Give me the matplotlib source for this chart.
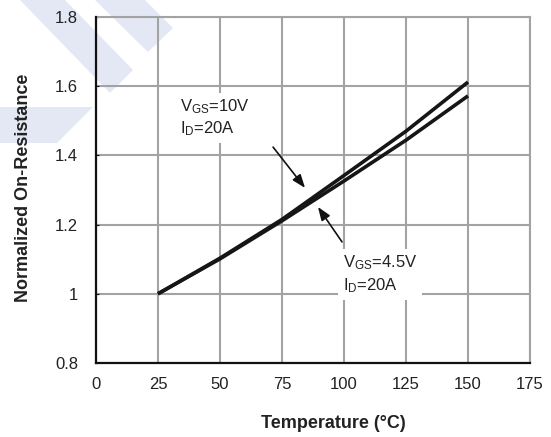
import matplotlib
matplotlib.use("Agg")
import matplotlib.pyplot as plt
from matplotlib.patches import Polygon

plt.rcParams['font.family'] = ['Liberation Sans', 'DejaVu Sans']
plt.rcParams['mathtext.fontset'] = 'custom'
plt.rcParams['mathtext.rm'] = 'Liberation Sans'
plt.rcParams['mathtext.it'] = 'Liberation Sans'

# Data
temperature = [25, 50, 75, 100, 125, 150]
r_vgs10 = [1.0, 1.103, 1.215, 1.342, 1.470, 1.612]
r_vgs45 = [1.0, 1.101, 1.211, 1.326, 1.444, 1.572]
x_ticks = [0, 25, 50, 75, 100, 125, 150, 175]
y_ticks = [0.8, 1.0, 1.2, 1.4, 1.6, 1.8]
y_tick_labels = ['0.8', '1', '1.2', '1.4', '1.6', '1.8']
label_10 = "V$_{\\mathrm{GS}}$=10V\nI$_{\\mathrm{D}}$=20A"
label_45 = "V$_{\\mathrm{GS}}$=4.5V\nI$_{\\mathrm{D}}$=20A"

W, H = 551, 437
fig = plt.figure(figsize=(W / 100, H / 100), dpi=100)
fig.patch.set_facecolor('white')

# watermark stripes (figure pixel coords, y down)
wm = '#e4e8f4'
def px(pts):
    return [(x / W, 1 - y / H) for x, y in pts]
for pts in [
    [(20, 0), (65, 0), (133, 70), (110, 93)],
    [(95, 0), (145, 0), (173, 28), (148, 52)],
    [(0, 107), (93, 107), (57, 143), (0, 143)],
]:
    fig.patches.append(Polygon(px(pts), closed=True, transform=fig.transFigure,
                               facecolor=wm, edgecolor='none', zorder=-5))

ax = fig.add_axes([96 / W, 1 - 363 / H, (530 - 96) / W, (363 - 17) / H])
ax.patch.set_alpha(0)

ax.set_xlim(0, 175)
ax.set_ylim(0.8, 1.8)
ax.set_xticks(x_ticks)
ax.set_yticks(y_ticks)
ax.set_yticklabels(y_tick_labels)

grid_c = '#a3a3a3'
ax.grid(True, color=grid_c, linewidth=1.5, zorder=1)
ax.set_axisbelow(True)
for s in ['top', 'right']:
    ax.spines[s].set_color(grid_c)
    ax.spines[s].set_linewidth(1.5)
for s in ['left', 'bottom']:
    ax.spines[s].set_color('#111111')
    ax.spines[s].set_linewidth(1.6)
    ax.spines[s].set_zorder(5)

ax.tick_params(axis='x', length=0, pad=10, labelsize=12, labelcolor='#222222')
ax.tick_params(axis='y', length=2.5, direction='in', pad=13, labelsize=12,
               labelcolor='#222222', color='#111111')

ax.plot(temperature, r_vgs10, color='#161616', linewidth=2.6, zorder=3,
        solid_capstyle='butt')
ax.plot(temperature, r_vgs45, color='#161616', linewidth=2.6, zorder=3,
        solid_capstyle='butt')

# annotations
box = dict(boxstyle='square,pad=0.3', facecolor='white', edgecolor='none')
ax.text(33.9, 1.508, label_10, fontsize=12, color='#222222', va='center',
        ha='left', linespacing=1.25, bbox=box, zorder=4)
ax.text(99.6, 1.057, label_45, fontsize=12, color='#222222', va='center',
        ha='left', linespacing=1.25, bbox=box, zorder=4)

arrow = dict(arrowstyle='-|>,head_length=0.8,head_width=0.3', color='#111111',
             linewidth=1.2, shrinkA=0, shrinkB=0)
ax.annotate('', xy=(84.3, 1.306), xytext=(71.4, 1.424), arrowprops=arrow, zorder=4)
ax.annotate('', xy=(89.5, 1.251), xytext=(99.2, 1.150), arrowprops=arrow, zorder=4)

ax.set_xlabel('Temperature (°C)', fontsize=13, fontweight='bold', color='#222222')
ax.xaxis.set_label_coords((333 - 96) / 434, -(415 - 363) / 346)
ax.set_ylabel('Normalized On-Resistance', fontsize=13, fontweight='bold',
              color='#222222')
ax.yaxis.set_label_coords(-(96 - 32) / 434, 0.5 - (188 - 190) / 346)

fig.savefig('out.png', dpi=100)
